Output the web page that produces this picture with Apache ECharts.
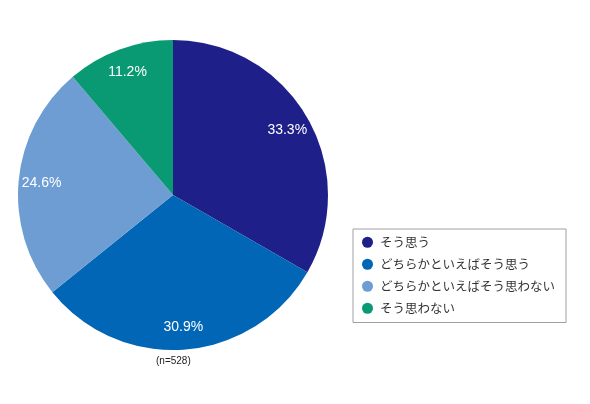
<!DOCTYPE html>
<html><head><meta charset="utf-8">
<script src="https://cdn.jsdelivr.net/npm/echarts@6/dist/echarts.min.js"></script>
<style>html,body{margin:0;padding:0;background:#fff}#c{width:590px;height:404px}</style>
</head><body><div id="c"></div>
<script>
const categories = ['そう思う','どちらかといえばそう思う','どちらかといえばそう思わない','そう思わない'];
const values = [33.3, 30.9, 24.6, 11.2];
const colors = ['#1f1f89','#0066b5','#6d9dd3','#0a9a73'];
const sampleNote = '(n=528)';

const chart = echarts.init(document.getElementById('c'));
const data = categories.map((n,i)=>({name:n, value:values[i], itemStyle:{color:colors[i]}}));
const FONT = '"Noto Sans CJK JP", "Noto Sans", sans-serif';
const NUMFONT = '"Liberation Sans", Arial, sans-serif';
chart.setOption({
  animation:false,
  legend:{
    orient:'vertical', left:353, top:229,
    data:categories,
    icon:'circle', itemWidth:11, itemHeight:11, itemGap:9.5,
    borderColor:'#a0a0a0', borderWidth:1, padding:[7,11,8,9],
    textStyle:{fontFamily:FONT, fontSize:12.5, color:'#333', padding:[0,0,0,2]}
  },
  graphic:[{type:'text', left:156, top:356, style:{text:sampleNote, fontFamily:NUMFONT, fontSize:10, fill:'#222'}}],
  series:[
    {type:'pie', center:[173,195], radius:155, startAngle:90, clockwise:true,
     data:data, label:{show:false}, labelLine:{show:false}, silent:true},
    {type:'pie', center:[173,196], radius:258, startAngle:90, clockwise:true, silent:true,
     legendHoverLink:false,
     data:categories.map((n,i)=>({name:n+' ', value:values[i], itemStyle:{color:'rgba(0,0,0,0)'}})),
     label:{show:true, position:'inside', formatter:p=>p.value.toFixed(1)+'%', color:'#fff', fontFamily:NUMFONT, fontSize:14},
     labelLine:{show:false}}
  ]
});
</script></body></html>
